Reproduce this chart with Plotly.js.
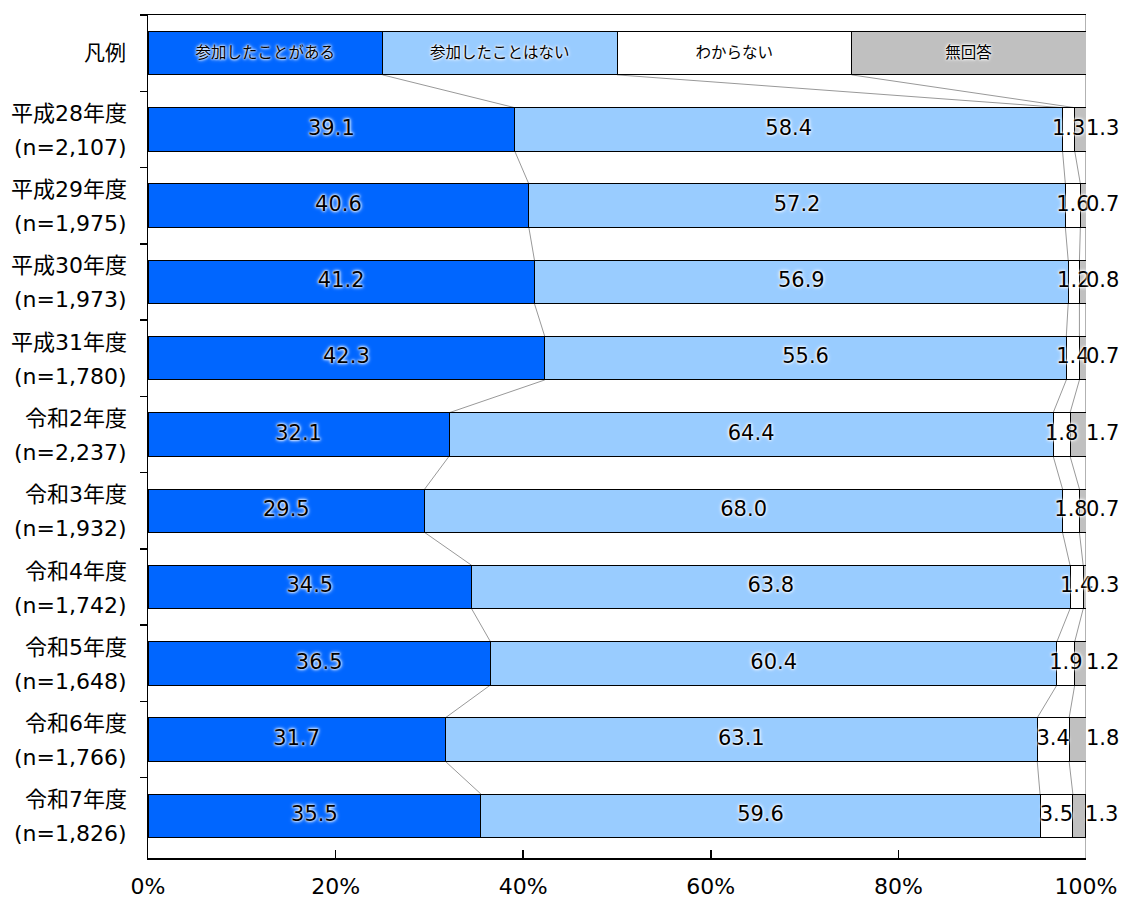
<!DOCTYPE html>
<html><head><meta charset="utf-8">
<script src="https://cdn.plot.ly/plotly-3.0.1.min.js"></script>
<style>body{margin:0;background:#fff}#c{width:1135px;height:899px}</style>
</head><body><div id="c"></div>
<script>
const legendLabel = '凡例';
const years = ['平成28年度','平成29年度','平成30年度','平成31年度','令和2年度','令和3年度','令和4年度','令和5年度','令和6年度','令和7年度'];
const ns = ['2,107','1,975','1,973','1,780','2,237','1,932','1,742','1,648','1,766','1,826'];
const seriesNames = ['参加したことがある','参加したことはない','わからない','無回答'];
const sanka = [39.1,40.6,41.2,42.3,32.1,29.5,34.5,36.5,31.7,35.5];
const nai   = [58.4,57.2,56.9,55.6,64.4,68.0,63.8,60.4,63.1,59.6];
const wakaranai = [1.3,1.6,1.2,1.4,1.8,1.8,1.4,1.9,3.4,3.5];
const mukaito = [1.3,0.7,0.8,0.7,1.7,0.7,0.3,1.2,1.8,1.3];
const legendShare = 25;
const xTicks = [0,20,40,60,80,100];
const colors = ['#0066FF','#99CCFF','#FFFFFF','#C0C0C0'];

const FONT = 'Verdana, "DejaVu Sans", "Noto Sans CJK JP", sans-serif';
const SHADOW = '0px 0px 2px #fff, 0px 0px 3px #fff, 0px 0px 4px #fff';
const cats = [legendLabel].concat(years);
const series = [sanka, nai, wakaranai, mukaito];
const BW = 0.57;
const XMAX = 100;

const traces = series.map((vals, k) => ({
  type: 'bar', orientation: 'h', name: seriesNames[k],
  y: cats,
  x: [legendShare].concat(vals),
  text: [seriesNames[k]].concat(vals.map(() => '')),
  textposition: 'inside',
  insidetextanchor: 'middle',
  textangle: 0,
  constraintext: 'none',
  textfont: {family: FONT, size: 15.5, color: '#000', shadow: SHADOW},
  marker: {color: colors[k], line: {color: '#000', width: 1}},
  width: BW,
  hoverinfo: 'skip'
}));

// value labels as text traces on top of bars
series.forEach((vals, k) => {
  const xs = vals.map((v, i) => {
    let start = 0;
    for (let j = 0; j < k; j++) start += series[j][i];
    return k === 3 ? Math.min(start + v, XMAX) : start + v / 2;
  });
  traces.push({
    type: 'scatter', mode: 'text', y: years, x: xs,
    text: vals.map(v => v.toFixed(1)),
    textposition: k === 3 ? 'middle right' : 'middle center',
    textfont: {family: FONT, size: 21, color: '#000', shadow: SHADOW},
    cliponaxis: false, hoverinfo: 'skip', showlegend: false
  });
});

// connector lines between cumulative boundaries
const rows = cats.map((c, i) => i === 0 ? [legendShare, legendShare, legendShare] : [sanka[i-1], nai[i-1], wakaranai[i-1]]);
const shapes = [];
for (let i = 0; i < rows.length - 1; i++) {
  let a = 0, b = 0;
  for (let k = 0; k < 3; k++) {
    a += rows[i][k]; b += rows[i+1][k];
    shapes.push({type: 'line', xref: 'x', yref: 'y', x0: a, x1: b, y0: i + BW/2, y1: i + 1 - BW/2,
      line: {color: '#999999', width: 1}, layer: 'below'});
  }
}
shapes.push({type: 'line', xref: 'x', yref: 'paper', x0: XMAX, x1: XMAX, y0: 0, y1: 1, line: {color: '#999999', width: 1.5}, layer: 'below'});

const annotations = [];
annotations.push({xref: 'paper', yref: 'y', x: 0, y: legendLabel, text: legendLabel, showarrow: false, xanchor: 'right', xshift: -20, font: {family: FONT, size: 21, color: '#000'}});
years.forEach((yr, i) => {
  annotations.push({xref: 'paper', yref: 'y', x: 0, y: yr, text: yr, showarrow: false, xanchor: 'right', xshift: -19, yshift: 16, font: {family: FONT, size: 22, color: '#000'}});
  annotations.push({xref: 'paper', yref: 'y', x: 0, y: yr, text: '(n=' + ns[i] + ')', showarrow: false, xanchor: 'right', xshift: -19, yshift: -18, font: {family: FONT, size: 22, color: '#000'}});
});

const layout = {
  width: 1135, height: 899,
  margin: {l: 148, r: 49, t: 15, b: 41},
  barmode: 'stack',
  showlegend: false,
  paper_bgcolor: '#fff', plot_bgcolor: '#fff',
  font: {family: FONT, size: 18, color: '#000'},
  xaxis: {range: [0, XMAX], tickmode: 'array', tickvals: xTicks, ticktext: xTicks.map(t => t + '%'),
    showgrid: false, zeroline: false,
    showline: true, linecolor: '#000', linewidth: 1.5, mirror: true,
    ticks: 'inside', ticklen: 8, tickcolor: '#000', tickwidth: 1.5,
    tickfont: {family: FONT, size: 22, color: '#000'}, ticklabelstandoff: 8, fixedrange: true},
  yaxis: {type: 'category', categoryarray: cats, categoryorder: 'array', autorange: 'reversed', showticklabels: false,
    showline: true, linecolor: '#000', linewidth: 1.5, showgrid: false, zeroline: false,
    ticks: 'outside', tickson: 'boundaries', ticklen: 7, tickcolor: '#000', tickwidth: 1.5, fixedrange: true},
  shapes: shapes,
  annotations: annotations
};

Plotly.newPlot('c', traces, layout, {displayModeBar: false, staticPlot: true});
</script></body></html>
